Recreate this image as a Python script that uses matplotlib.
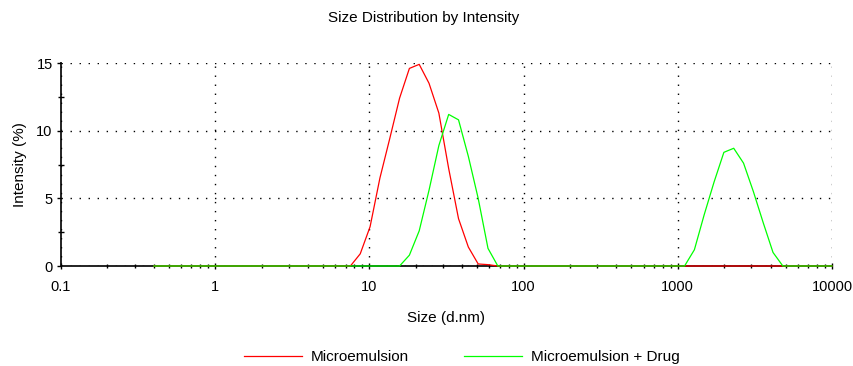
import matplotlib
matplotlib.use("Agg")
import matplotlib.pyplot as plt
import numpy as np
from matplotlib.ticker import LogLocator, FixedLocator, NullFormatter

# Size bins (d.nm)
sizes = [0.4, 0.4632, 0.5365, 0.6213, 0.7195, 0.8332, 0.9649, 1.117, 1.294, 1.499,
         1.736, 2.01, 2.328, 2.696, 3.122, 3.615, 4.187, 4.849, 5.615, 6.503,
         7.531, 8.721, 10.1, 11.7, 13.54, 15.69, 18.17, 21.04, 24.36, 28.21,
         32.67, 37.84, 43.82, 50.75, 58.77, 68.06, 78.82, 91.28, 105.7, 122.4,
         141.8, 164.2, 190.1, 220.2, 255.0, 295.3, 342.0, 396.1, 458.7, 531.2,
         615.1, 712.4, 825.0, 955.4, 1106, 1281, 1484, 1718, 1990, 2305,
         2669, 3091, 3580, 4145, 4801, 5560, 6439, 7456, 8635, 10000]

# Microemulsion intensity (%) - nonzero bins
red_sizes = [7.531, 8.721, 10.1, 11.7, 13.54, 15.69, 18.17, 21.04, 24.36, 28.21,
             32.67, 37.84, 43.82, 50.75, 58.77, 68.06]
red_vals = [0.0, 0.9, 2.9, 6.5, 9.4, 12.4, 14.6, 14.9, 13.5, 11.3,
            7.2, 3.5, 1.4, 0.15, 0.1, 0.0]

# Microemulsion + Drug intensity (%) - nonzero bins
green_sizes = [15.69, 18.17, 21.04, 24.36, 28.21, 32.67, 37.84, 43.82, 50.75, 58.77, 68.06,
               1106, 1281, 1484, 1718, 1990, 2305, 2669, 3091, 3580, 4145, 4801]
green_vals = [0.0, 0.8, 2.6, 5.6, 8.9, 11.2, 10.8, 8.1, 5.0, 1.3, 0.0,
              0.0, 1.2, 3.8, 6.2, 8.4, 8.7, 7.6, 5.5, 3.2, 1.0, 0.0]

series_names = ["Microemulsion", "Microemulsion + Drug"]
x_ticks = [0.1, 1, 10, 100, 1000, 10000]
x_ticklabels = ["0.1", "1", "10", "100", "1000", "10000"]
y_ticks = [0, 5, 10, 15]


def full(keys, vals):
    d = dict(zip(keys, vals))
    return [d.get(s, 0.0) for s in sizes]


red_full = full(red_sizes, red_vals)
green_full = full(green_sizes, green_vals)

plt.rcParams['font.family'] = ['Liberation Sans', 'DejaVu Sans']
fig = plt.figure(figsize=(8.54, 3.66), dpi=100)
ax = fig.add_axes([61/854, 1-266/366, (832-61)/854, (266-63)/366])

l1, = ax.plot(sizes, red_full, color='#ff0000', lw=0.9, clip_on=False, zorder=3)
l2, = ax.plot(sizes, green_full, color='#00ff00', lw=0.9, clip_on=False, zorder=4)

ax.set_xscale('log')
ax.set_xlim(0.1, 10000)
ax.set_ylim(0, 15)
ax.xaxis.set_major_locator(FixedLocator(x_ticks))
ax.set_xticklabels(x_ticklabels)
ax.xaxis.set_minor_locator(LogLocator(base=10, subs=np.arange(2, 10), numticks=20))
ax.xaxis.set_minor_formatter(NullFormatter())
ax.set_yticks(y_ticks)
ax.yaxis.set_minor_locator(FixedLocator([2.5, 7.5, 12.5]))

for s in ['top', 'right']:
    ax.spines[s].set_visible(False)
for s in ['left', 'bottom']:
    ax.spines[s].set_linewidth(1.4)
    ax.spines[s].set_color('#222222')

ax.tick_params(axis='y', which='major', direction='out', length=3, width=1, labelsize=10.5, pad=3)
ax.tick_params(axis='y', which='minor', direction='inout', length=4, width=1)
ax.tick_params(axis='x', which='major', direction='inout', length=4, width=1, labelsize=10.5, pad=8)
ax.tick_params(axis='x', which='minor', direction='inout', length=3, width=1)

ax.grid(True, which='major', color='black', linestyle=(0, (1, 5.5)), linewidth=1.0)
ax.set_axisbelow(False)

ax.set_xlabel("Size (d.nm)", fontsize=11, labelpad=12)
ax.set_ylabel("Intensity (%)", fontsize=11, labelpad=7)
fig.text(424/854, 1-18/366, "Size Distribution by Intensity", ha='center', va='center', fontsize=11)

fig.legend([l1, l2], series_names, loc='center', bbox_to_anchor=(462/854, 1-357/366),
           ncol=2, frameon=False, fontsize=11, handlelength=3.8, handletextpad=0.6,
           columnspacing=3.6)

fig.savefig("out.png", dpi=100)
